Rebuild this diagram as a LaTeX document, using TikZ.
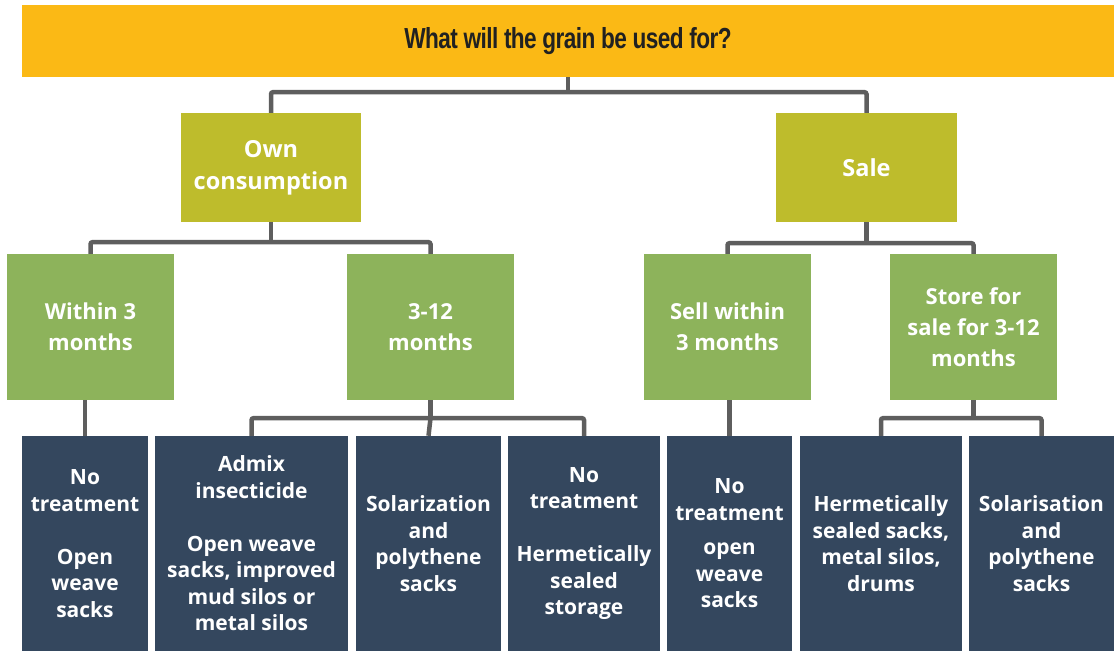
\documentclass[tikz,border=0pt]{standalone}
\usepackage{fontspec}
\setmainfont{Open Sans}
\newfontfamily\titlefont[FakeStretch=0.78, LetterSpace=-2]{Liberation Sans}
\usepackage{tikz}
\usetikzlibrary{positioning}

\definecolor{titleorange}{HTML}{FBB915}
\definecolor{olivebox}{HTML}{BEBC2C}
\definecolor{greenbox}{HTML}{8DB35B}
\definecolor{navybox}{HTML}{34475E}
\definecolor{linkgray}{HTML}{5E5E5E}

\begin{document}
\begin{tikzpicture}[x=1pt, y=-1pt,
    box/.style={rectangle, inner sep=0pt, align=center, text=white,
        font=\bfseries\fontsize{22}{31}\selectfont},
    topbox/.style={box, fill=olivebox, minimum height=109pt,
        font=\bfseries\fontsize{23.5}{32}\selectfont},
    midbox/.style={box, fill=greenbox, minimum height=146pt},
    lowbox/.style={box, fill=navybox, minimum height=215pt,
        font=\bfseries\fontsize{21}{26.5}\selectfont},
    link/.style={draw=linkgray, line width=4.5pt, rounded corners=2pt}]
        \useasboundingbox (0,0) rectangle (1114,651);

        % Nodes
        \node[rectangle, fill=titleorange, minimum width=1092pt, minimum height=72pt,
            font=\titlefont\bfseries\fontsize{29}{32}\selectfont, text=black!87] (q) at (568, 41)
            {What will the grain be used for?};

        \node[topbox, minimum width=180pt] (own) at (271, 167.5) {Own\\consumption};
        \node[topbox, minimum width=181pt] (sale) at (866.5, 167.5) {Sale};

        \node[midbox, minimum width=167pt] (w3) at (90.5, 327) {Within 3\\months};
        \node[midbox, minimum width=167pt] (m312) at (430.5, 327) {3-12\\months};
        \node[midbox, minimum width=167pt] (sell) at (727.5, 327) {Sell within\\3 months};
        \node[midbox, minimum width=167pt] (store) at (973.5, 327) {Store for\\sale for 3-12\\months};

        \node[lowbox, minimum width=126pt] (b1) at (85, 543.5)
            {No\\treatment\\[26.5pt]Open\\weave\\sacks};
        \node[lowbox, minimum width=193pt] (b2) at (251.5, 543.5)
            {Admix\\insecticide\\[26.5pt]Open weave\\sacks, improved\\mud silos or\\metal silos};
        \node[lowbox, minimum width=145pt] (b3) at (428.5, 543.5)
            {Solarization\\and\\polythene\\sacks};
        \node[lowbox, minimum width=152pt] (b4) at (584, 543.5)
            {No\\treatment\\[26.5pt]Hermetically\\sealed\\storage};
        \node[lowbox, minimum width=125pt] (b5) at (729.5, 543.5)
            {No\\treatment\\[8pt]open\\weave\\sacks};
        \node[lowbox, minimum width=162pt] (b6) at (881, 543.5)
            {Hermetically\\sealed sacks,\\metal silos,\\drums};
        \node[lowbox, minimum width=145pt] (b7) at (1041.5, 543.5)
            {Solarisation\\and\\polythene\\sacks};

        % Edges
        \draw[link] (q.south) -- ++(0,15) coordinate (j0);
        \draw[link] (own.north) |- (j0) -| (sale.north);

        \draw[link] (own.south) -- ++(0,20) coordinate (j1);
        \draw[link] (w3.north) |- (j1) -| (m312.north);

        \draw[link] (sale.south) -- ++(0,21) coordinate (j2);
        \draw[link] (sell.north) |- (j2) -| (store.north);

        \draw[link] (b1.north |- w3.south) -- (b1.north);

        \draw[link] (m312.south) -- ++(0,18) coordinate (j3);
        \draw[link] (b2.north) |- (j3) -| (b4.north);
        \draw[link] (j3) -- (b3.north);

        \draw[link] (b5.north |- sell.south) -- (b5.north);

        \draw[link] (store.south) -- ++(0,18) coordinate (j4);
        \draw[link] (b6.north) |- (j4) -| (b7.north);
    \end{tikzpicture}
\end{document}
